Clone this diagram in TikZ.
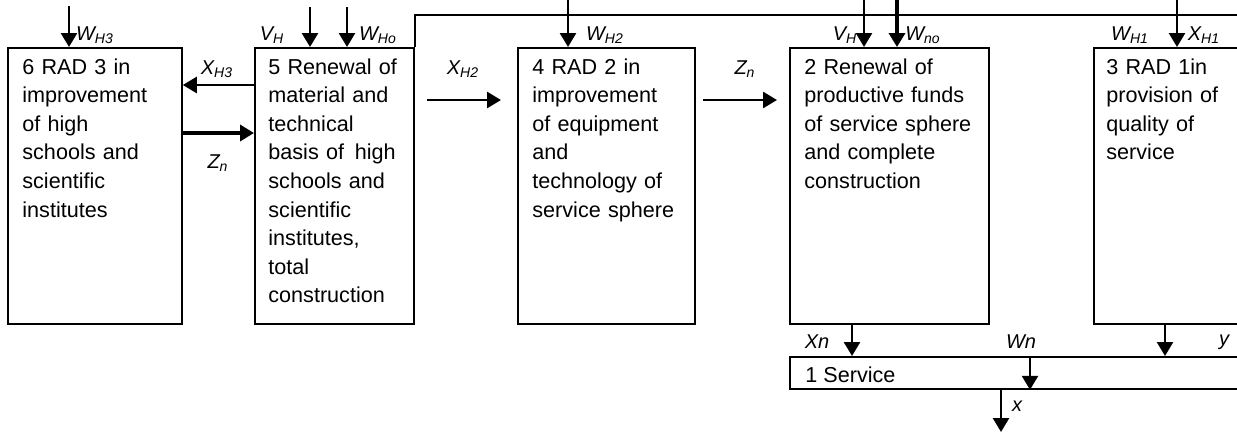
\documentclass[tikz,border=0pt]{standalone}
\usepackage{fontspec}
\setmainfont{Liberation Sans}
\usetikzlibrary{arrows.meta}

\begin{document}
\begin{tikzpicture}[x=0.5pt,y=-0.5pt,
    every node/.style={inner sep=0pt,font=\fontsize{10.8}{14.3}\selectfont},
    box/.style={draw,line width=0.9pt,anchor=north west,minimum height=138pt},
    txt/.style={anchor=base west,align=left,text width=#1},
    lbl/.style={font=\fontsize{10}{11}\selectfont\itshape},
    flow/.style={-{Triangle[length=7pt,width=8pt]},line width=1.3pt},
    bigflow/.style={flow,line width=2pt}]
\useasboundingbox (0,0) rectangle (1237,434);
\clip (0,0) rectangle (1237,434);

% blocks
\node[box,minimum width=87pt] (b6) at (7,47) {};
\node[box,minimum width=79.5pt] (b5) at (254,47) {};
\node[box,minimum width=88.5pt] (b4) at (517,47) {};
\node[box,minimum width=99.5pt] (b2) at (789,47) {};
\node[box,minimum width=83.5pt] (b3) at (1093,47) {};
\node[box,minimum width=235.5pt,minimum height=16pt] (b1) at (789,356) {};

\node[txt=80pt] (t6) at (22,74) {6 RAD 3 in\\improvement\\of high\\schools and\\scientific\\institutes};
\node[txt=78pt] (t5) at (268,74) {5 Renewal of\\material and\\technical\\basis of\, high\\schools and\\scientific\\institutes,\\total\\construction};
\node[txt=86pt] (t4) at (532,74) {4 RAD 2 in\\improvement\\of equipment\\and\\technology of\\service sphere};
\node[txt=98pt] (t2) at (804,74) {2 Renewal of\\productive funds\\of service sphere\\and complete\\construction};
\node[txt=75pt] (t3) at (1106,74) {3 RAD 1in\\provision of\\quality of\\service};
\node[anchor=base west] (t1) at (805,382) {1 Service};

% inputs from above
\coordinate (in6) at (69,6);
\coordinate (vh5) at (310,7);
\coordinate (wh5) at (347,7);
\coordinate (in4) at (568,0);
\coordinate (vh2) at (864,0);
\coordinate (wn2) at (897,0);
\coordinate (in3) at (1177,0);
\coordinate (fb) at (1237,15);
\draw[line width=1pt] (b5.north east) |- (fb);
\draw[flow] (in6) -- (in6 |- b6.north);
\draw[flow] (vh5) -- (vh5 |- b5.north);
\draw[flow] (wh5) -- (wh5 |- b5.north);
\draw[flow] (in4) -- (in4 |- b4.north);
\draw[flow] (vh2) -- (vh2 |- b2.north);
\draw[bigflow] (wn2) -- (wn2 |- b2.north);
\draw[flow] (in3) -- (in3 |- b3.north);

% links between blocks
\coordinate (rowA) at (0,85);
\coordinate (rowB) at (0,133);
\coordinate (xh2a) at (427,100);
\coordinate (xh2b) at (501,100);
\coordinate (zna) at (703,100);
\coordinate (znb) at (777,100);
\draw[flow] (b5.west |- rowA) -- (b6.east |- rowA);
\draw[bigflow] (b6.east |- rowB) -- (b5.west |- rowB);
\draw[flow] (xh2a) -- (xh2b);
\draw[flow] (zna) -- (znb);

% service
\coordinate (colxn) at (852,0);
\coordinate (colwn) at (1030,0);
\coordinate (coly) at (1165,0);
\coordinate (out) at (1001,432);
\draw[flow] (colxn |- b2.south) -- (colxn |- b1.north);
\draw[flow] (coly |- b3.south) -- (coly |- b1.north);
\draw[flow] (colwn |- b1.north) -- (colwn |- b1.south);
\draw[flow] (out |- b1.south) -- (out);

% labels
\node[lbl] (lwh3) at (95,35) {W\textsubscript{H3}};
\node[lbl] (lvh5) at (272,35) {V\textsubscript{H}};
\node[lbl] (lwh5) at (378,35) {W\textsubscript{Ho}};
\node[lbl] (lxh3) at (217,69) {X\textsubscript{H3}};
\node[lbl] (lzn1) at (218,163) {Z\textsubscript{n}};
\node[lbl] (lxh2) at (463,69) {X\textsubscript{H2}};
\node[lbl] (lwh2) at (605,35) {W\textsubscript{H2}};
\node[lbl] (lzn2) at (745,69) {Z\textsubscript{n}};
\node[lbl] (lvh2) at (845,35) {V\textsubscript{H}};
\node[lbl] (lwn2) at (923,35) {W\textsubscript{no}};
\node[lbl] (lwh1) at (1130,35) {W\textsubscript{H1}};
\node[lbl] (lxh1) at (1204,35) {X\textsubscript{H1}};
\node[lbl] (lxn) at (817,342) {Xn};
\node[lbl] (lwn) at (1021,342) {Wn};
\node[lbl] (ly) at (1224,342) {y};
\node[lbl] (lx) at (1017,406) {x};
\end{tikzpicture}
\end{document}
